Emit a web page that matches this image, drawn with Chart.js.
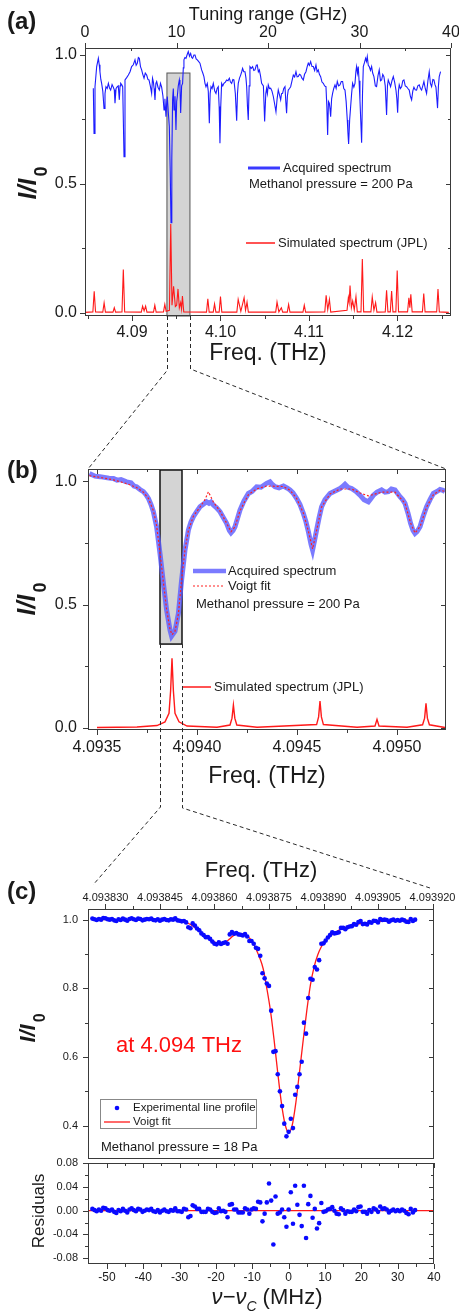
<!DOCTYPE html>
<html>
<head>
  <meta charset="utf-8">
  <title>Methanol THz spectrum</title>
  <script src="https://cdn.jsdelivr.net/npm/chart.js"></script>
  <style>
    body { margin: 0; background: #fff; width: 459px; height: 1312px; position: relative; overflow: hidden; }
    canvas { position: absolute; left: 0; }
  </style>
</head>
<body>
  <canvas id="chartA" width="459" height="372" style="top:0px"></canvas>
  <canvas id="chartB" width="459" height="356" style="top:440px"></canvas>
  <canvas id="chartC" width="459" height="313" style="top:850px"></canvas>
  <canvas id="chartR" width="459" height="162" style="top:1150px"></canvas>
  <canvas id="overlay" width="459" height="1312" style="top:0px; pointer-events:none"></canvas>

  <script>
    // ---------- panel (a): full tuning range ----------
    var aAcqF = [
      4.08563, 4.08571, 4.08582, 4.08601, 4.08620, 4.08630, 4.08638, 4.08648, 4.08657, 4.08670,
      4.08684, 4.08695, 4.08706, 4.08720, 4.08733, 4.08746, 4.08759, 4.08775, 4.08789, 4.08800,
      4.08808, 4.08820, 4.08834, 4.08845, 4.08857, 4.08865, 4.08872, 4.08885, 4.08895, 4.08910,
      4.08921, 4.08940, 4.08959, 4.08978, 4.08996, 4.09015, 4.09034, 4.09047, 4.09060, 4.09072,
      4.09083, 4.09096, 4.09109, 4.09122, 4.09136, 4.09150, 4.09166, 4.09180, 4.09192, 4.09207,
      4.09222, 4.09232, 4.09241, 4.09250, 4.09260, 4.09270, 4.09279, 4.09294, 4.09309, 4.09322,
      4.09335, 4.09350, 4.09362, 4.09372, 4.09384, 4.09392, 4.09399, 4.09410, 4.09422, 4.09432,
      4.09441, 4.09450, 4.09459, 4.09467, 4.09475, 4.09486, 4.09497, 4.09505, 4.09512, 4.09523,
      4.09535, 4.09542, 4.09550, 4.09561, 4.09572, 4.09580, 4.09587, 4.09598, 4.09610, 4.09622,
      4.09636, 4.09650, 4.09663, 4.09675, 4.09685, 4.09700, 4.09712, 4.09725, 4.09738, 4.09752,
      4.09768, 4.09787, 4.09800, 4.09813, 4.09825, 4.09836, 4.09851, 4.09862, 4.09874, 4.09883,
      4.09893, 4.09905, 4.09919, 4.09935, 4.09949, 4.09962, 4.09975, 4.09985, 4.09994, 4.10003,
      4.10013, 4.10026, 4.10039, 4.10055, 4.10070, 4.10085, 4.10100, 4.10113, 4.10126, 4.10140,
      4.10152, 4.10168, 4.10183, 4.10192, 4.10201, 4.10215, 4.10228, 4.10240, 4.10250, 4.10263,
      4.10277, 4.10288, 4.10296, 4.10305, 4.10314, 4.10324, 4.10333, 4.10348, 4.10363, 4.10377,
      4.10390, 4.10405, 4.10416, 4.10428, 4.10439, 4.10452, 4.10465, 4.10485, 4.10499, 4.10512,
      4.10521, 4.10530, 4.10540, 4.10553, 4.10567, 4.10582, 4.10597, 4.10612, 4.10627, 4.10640,
      4.10653, 4.10667, 4.10680, 4.10690, 4.10702, 4.10715, 4.10729, 4.10738, 4.10747, 4.10756,
      4.10766, 4.10780, 4.10793, 4.10808, 4.10823, 4.10838, 4.10853, 4.10866, 4.10879, 4.10893,
      4.10906, 4.10920, 4.10936, 4.10950, 4.10966, 4.10980, 4.10992, 4.11005, 4.11019, 4.11034,
      4.11049, 4.11064, 4.11079, 4.11092, 4.11105, 4.11118, 4.11132, 4.11147, 4.11162, 4.11177,
      4.11192, 4.11202, 4.11211, 4.11220, 4.11230, 4.11238, 4.11245, 4.11256, 4.11267, 4.11280,
      4.11294, 4.11307, 4.11320, 4.11335, 4.11350, 4.11365, 4.11380, 4.11393, 4.11407, 4.11420,
      4.11433, 4.11440, 4.11448, 4.11460, 4.11471, 4.11482, 4.11493, 4.11507, 4.11520, 4.11530,
      4.11538, 4.11548, 4.11557, 4.11566, 4.11576, 4.11586, 4.11595, 4.11605, 4.11614, 4.11627,
      4.11640, 4.11650, 4.11659, 4.11670, 4.11681, 4.11695, 4.11708, 4.11720, 4.11734, 4.11750,
      4.11764, 4.11780, 4.11794, 4.11808, 4.11821, 4.11834, 4.11847, 4.11862, 4.11877, 4.11887,
      4.11896, 4.11910, 4.11922, 4.11938, 4.11953, 4.11968, 4.11983, 4.11993, 4.12002, 4.12011,
      4.12020, 4.12033, 4.12047, 4.12060, 4.12073, 4.12088, 4.12103, 4.12118, 4.12133, 4.12146,
      4.12160, 4.12173, 4.12186, 4.12200, 4.12216, 4.12230, 4.12246, 4.12260, 4.12273, 4.12286,
      4.12299, 4.12314, 4.12329, 4.12344, 4.12359, 4.12372, 4.12386, 4.12400, 4.12412, 4.12424,
      4.12435, 4.12445, 4.12453, 4.12463, 4.12472, 4.12487
    ];
    var aAcqI = [
      0.871, 0.696, 0.877, 0.955, 0.987, 0.962, 0.935, 0.905, 0.890, 0.860,
      0.793, 0.850, 0.877, 0.870, 0.890, 0.872, 0.864, 0.885, 0.875, 0.865,
      0.813, 0.870, 0.877, 0.880, 0.826, 0.880, 0.890, 0.884, 0.877, 0.606,
      0.903, 0.912, 0.922, 0.935, 0.955, 0.962, 0.981, 0.960, 0.968, 0.990,
      0.987, 0.955, 0.942, 0.925, 0.910, 0.930, 0.922, 0.905, 0.903, 0.880,
      0.851, 0.910, 0.897, 0.870, 0.826, 0.890, 0.897, 0.875, 0.864, 0.890,
      0.875, 0.840, 0.787, 0.830, 0.761, 0.810, 0.839, 0.780, 0.722, 0.550,
      0.350, 0.600, 0.826, 0.870, 0.787, 0.840, 0.709, 0.820, 0.839, 0.880,
      0.903, 0.880, 0.775, 0.880, 0.890, 0.950, 0.981, 0.990, 0.987, 1.000,
      1.013, 0.995, 1.006, 0.990, 0.987, 1.000, 1.000, 0.985, 0.981, 0.975,
      0.968, 0.942, 0.930, 0.916, 0.890, 0.877, 0.890, 0.860, 0.735, 0.850,
      0.877, 0.870, 0.890, 0.860, 0.851, 0.870, 0.877, 0.800, 0.658, 0.800,
      0.890, 0.880, 0.890, 0.895, 0.903, 0.900, 0.910, 0.895, 0.890, 0.905,
      0.903, 0.850, 0.745, 0.850, 0.890, 0.910, 0.922, 0.935, 0.948, 0.935,
      0.935, 0.910, 0.877, 0.800, 0.748, 0.880, 0.955, 0.948, 0.955, 0.940,
      0.942, 0.960, 0.961, 0.935, 0.942, 0.920, 0.890, 0.880, 0.742, 0.850,
      0.870, 0.850, 0.884, 0.870, 0.871, 0.860, 0.839, 0.810, 0.780, 0.830,
      0.864, 0.845, 0.826, 0.850, 0.851, 0.870, 0.877, 0.820, 0.774, 0.840,
      0.864, 0.870, 0.877, 0.900, 0.922, 0.915, 0.935, 0.915, 0.916, 0.925,
      0.922, 0.910, 0.903, 0.925, 0.935, 0.955, 0.968, 0.960, 0.974, 0.955,
      0.955, 0.940, 0.961, 0.935, 0.942, 0.925, 0.916, 0.895, 0.890, 0.880,
      0.877, 0.800, 0.690, 0.820, 0.813, 0.790, 0.761, 0.830, 0.851, 0.870,
      0.884, 0.870, 0.897, 0.880, 0.884, 0.897, 0.897, 0.870, 0.864, 0.820,
      0.748, 0.700, 0.655, 0.750, 0.800, 0.850, 0.890, 0.875, 0.890, 0.935,
      0.955, 0.930, 0.955, 0.900, 0.826, 0.740, 0.660, 0.850, 0.955, 0.970,
      0.987, 0.975, 0.994, 0.960, 0.955, 0.940, 0.955, 0.930, 0.916, 0.880,
      0.877, 0.920, 0.942, 0.900, 0.903, 0.925, 0.916, 0.880, 0.767, 0.880,
      0.903, 0.890, 0.877, 0.900, 0.916, 0.895, 0.864, 0.830, 0.776, 0.860,
      0.884, 0.870, 0.877, 0.900, 0.903, 0.880, 0.877, 0.870, 0.864, 0.840,
      0.826, 0.860, 0.875, 0.865, 0.864, 0.880, 0.884, 0.870, 0.864, 0.880,
      0.897, 0.870, 0.851, 0.900, 0.935, 0.890, 0.877, 0.905, 0.903, 0.885,
      0.875, 0.830, 0.794, 0.880, 0.916, 0.935
    ];
    // simulated JPL lines (red)
    var aSimF = [
      4.0847, 4.08558, 4.08573, 4.08588,
      4.08670, 4.08685, 4.08700,
      4.08785, 4.08800, 4.08815,
      4.08887, 4.08902, 4.08917,
      4.09105, 4.09120, 4.09137, 4.09154, 4.09169,
      4.09243, 4.09258, 4.09273,
      4.09356, 4.09371, 4.09386,
      4.09423, 4.09438, 4.09452, 4.09470, 4.09490, 4.09505, 4.09520, 4.09535, 4.09550, 4.09560, 4.09570, 4.09585,
      4.09842, 4.09857, 4.09872,
      4.09918, 4.09933, 4.09948,
      4.09985, 4.10000, 4.10015,
      4.10185, 4.10200, 4.10230, 4.10267, 4.10283, 4.10300, 4.10315,
      4.10624, 4.10639, 4.10660, 4.10688, 4.10703,
      4.10755, 4.10770, 4.10785,
      4.10932, 4.10947, 4.10962,
      4.11179, 4.11194, 4.11212, 4.11231, 4.11246,
      4.11430, 4.11445, 4.11454, 4.11464, 4.11479, 4.11494, 4.11512, 4.11531, 4.11546,
      4.11588, 4.11603, 4.11618,
      4.11700, 4.11715, 4.11734, 4.11753, 4.11768,
      4.11862, 4.11877, 4.11892,
      4.11919, 4.11934, 4.11949,
      4.11982, 4.11997, 4.12012,
      4.12114, 4.12129, 4.12140, 4.12151, 4.12166,
      4.12282, 4.12297, 4.12312,
      4.12443, 4.12458, 4.12473,
      4.1258
    ];
    var aSimI = [
      0.002, 0.004, 0.084, 0.004,
      0.003, 0.039, 0.003,
      0.003, 0.020, 0.003,
      0.004, 0.168, 0.004,
      0.003, 0.026, 0.008, 0.026, 0.003,
      0.003, 0.030, 0.003,
      0.004, 0.033, 0.006,
      0.010, 0.345, 0.030, 0.103, 0.025, 0.030, 0.093, 0.020, 0.040, 0.015, 0.065, 0.004,
      0.003, 0.055, 0.003,
      0.003, 0.035, 0.003,
      0.003, 0.063, 0.003,
      0.003, 0.052, 0.006, 0.059, 0.010, 0.042, 0.003,
      0.003, 0.042, 0.004, 0.020, 0.003,
      0.003, 0.033, 0.003,
      0.003, 0.030, 0.003,
      0.004, 0.068, 0.012, 0.052, 0.003,
      0.010, 0.059, 0.040, 0.106, 0.020, 0.046, 0.012, 0.063, 0.004,
      0.004, 0.209, 0.004,
      0.004, 0.062, 0.010, 0.040, 0.003,
      0.004, 0.088, 0.004,
      0.004, 0.085, 0.004,
      0.004, 0.164, 0.004,
      0.004, 0.059, 0.020, 0.072, 0.004,
      0.004, 0.075, 0.004,
      0.004, 0.093, 0.004,
      0.002
    ];
    var aFreqTicks = [4.09, 4.10, 4.11, 4.12];
    var aFreqMinor = [4.085, 4.095, 4.105, 4.115, 4.125];
    var aTuneTicks = [0, 10, 20, 30, 40];
    var aTuneMinor = [5, 15, 25, 35];
    var aYTicks = [0, 0.5, 1.0];
    var aYMinor = [0.25, 0.75];
    var aZoomBox = [4.09395, 4.09655, -0.012, 0.93];   // x0, x1, y0, y1

    // ---------- panel (b): zoom around 4.094 THz ----------
    var bAcqF = [
      4.093462, 4.093490, 4.093515, 4.093545, 4.093560, 4.093582, 4.093600, 4.093620, 4.093648, 4.093670,
      4.093685, 4.093698, 4.093715, 4.093732, 4.093745, 4.093757, 4.093770, 4.093782, 4.093798, 4.093815,
      4.093832, 4.093848, 4.093865, 4.093873, 4.093880, 4.093890, 4.093907, 4.093923, 4.093940, 4.093957,
      4.093970, 4.093982, 4.094000, 4.094015, 4.094030, 4.094048, 4.094060, 4.094070, 4.094082, 4.094098,
      4.094115, 4.094130, 4.094148, 4.094162, 4.094170, 4.094180, 4.094190, 4.094203, 4.094215, 4.094235,
      4.094257, 4.094275, 4.094298, 4.094320, 4.094348, 4.094365, 4.094378, 4.094390, 4.094410, 4.094432,
      4.094450, 4.094465, 4.094480, 4.094498, 4.094515, 4.094532, 4.094545, 4.094557, 4.094570, 4.094578,
      4.094588, 4.094598, 4.094610, 4.094623, 4.094640, 4.094665, 4.094690, 4.094715, 4.094728, 4.094740,
      4.094755, 4.094773, 4.094795, 4.094815, 4.094835, 4.094857, 4.094870, 4.094882, 4.094900, 4.094923,
      4.094940, 4.094957, 4.094972, 4.094990, 4.095003, 4.095015, 4.095028, 4.095040, 4.095055, 4.095068,
      4.095080, 4.095090, 4.095100, 4.095115, 4.095130, 4.095148, 4.095165, 4.095182, 4.095200, 4.095215,
      4.095230, 4.095240
    ];
    var bAcqI = [
      1.031, 1.020, 1.018, 1.014, 1.012, 1.011, 1.004, 1.006, 0.997, 0.993,
      0.980, 0.977, 0.966, 0.957, 0.945, 0.930, 0.905, 0.876, 0.815, 0.707,
      0.586, 0.478, 0.397, 0.372, 0.380, 0.392, 0.464, 0.599, 0.721, 0.802,
      0.835, 0.856, 0.878, 0.896, 0.905, 0.916, 0.910, 0.915, 0.903, 0.892,
      0.876, 0.855, 0.829, 0.800, 0.791, 0.800, 0.815, 0.850, 0.883, 0.920,
      0.950, 0.958, 0.977, 0.975, 0.991, 0.997, 0.985, 0.977, 0.973, 0.980,
      0.972, 0.964, 0.952, 0.930, 0.905, 0.869, 0.835, 0.795, 0.745, 0.721,
      0.760, 0.802, 0.850, 0.896, 0.925, 0.950, 0.960, 0.970, 0.978, 0.987,
      0.975, 0.970, 0.958, 0.943, 0.925, 0.916, 0.930, 0.943, 0.955, 0.964,
      0.955, 0.957, 0.968, 0.964, 0.950, 0.937, 0.925, 0.910, 0.870, 0.829,
      0.800, 0.788, 0.795, 0.815, 0.855, 0.896, 0.925, 0.950, 0.958, 0.966,
      0.963, 0.957
    ];
    var bFitF = [
      4.093462, 4.093515, 4.093582, 4.093648, 4.093698, 4.093732, 4.093757, 4.093782, 4.093798, 4.093815,
      4.093832, 4.093848, 4.093865, 4.093875, 4.093890, 4.093907, 4.093923, 4.093940, 4.093957, 4.093982,
      4.094015, 4.094040, 4.094057, 4.094082, 4.094115, 4.094148, 4.094170, 4.094190, 4.094215, 4.094257,
      4.094298, 4.094348, 4.094432, 4.094465, 4.094498, 4.094532, 4.094557, 4.094578, 4.094598, 4.094623,
      4.094665, 4.094715, 4.094773, 4.094815, 4.094857, 4.094923, 4.094990, 4.095040, 4.095068, 4.095090,
      4.095115, 4.095148, 4.095182, 4.095215, 4.095240
    ];
    var bFitI = [
      1.022, 1.015, 1.005, 0.990, 0.974, 0.955, 0.930, 0.880, 0.820, 0.710,
      0.590, 0.480, 0.400, 0.378, 0.392, 0.462, 0.600, 0.722, 0.800, 0.858,
      0.895, 0.925, 0.957, 0.915, 0.878, 0.830, 0.795, 0.815, 0.880, 0.945,
      0.968, 0.980, 0.978, 0.963, 0.930, 0.870, 0.797, 0.725, 0.800, 0.895,
      0.948, 0.968, 0.968, 0.952, 0.940, 0.955, 0.955, 0.910, 0.830, 0.790,
      0.815, 0.895, 0.945, 0.963, 0.958
    ];
    var bSimF = [
      4.09350, 4.09370, 4.09380, 4.09384, 4.093860, 4.093868, 4.093875, 4.093882, 4.09389, 4.09391,
      4.09395, 4.09410, 4.094165, 4.094175, 4.094182, 4.094189, 4.094199, 4.09430, 4.094598, 4.094608,
      4.094615, 4.094622, 4.094632, 4.09480, 4.094890, 4.094900, 4.094910, 4.09505, 4.095128, 4.095138,
      4.095145, 4.095152, 4.095162, 4.09524
    ];
    var bSimI = [
      0.002, 0.004, 0.010, 0.025, 0.060, 0.150, 0.282, 0.150, 0.060, 0.025,
      0.008, 0.003, 0.012, 0.040, 0.093, 0.040, 0.012, 0.003, 0.014, 0.045,
      0.109, 0.045, 0.014, 0.003, 0.008, 0.035, 0.008, 0.003, 0.013, 0.040,
      0.100, 0.040, 0.013, 0.002
    ];
    var bXTicks = [4.0935, 4.0940, 4.0945, 4.0950];
    var bXMinor = [4.09375, 4.09425, 4.09475];
    var bYTicks = [0, 0.5, 1.0];
    var bYMinor = [0.25, 0.75];
    var bZoomBox = [4.093815, 4.093925, 0.34, 1.045];

    // ---------- panel (c): single line at 4.094 THz, 18 Pa ----------
    var cShift = [
      -54.0, -53.4, -52.8, -52.2, -51.6, -51.0, -50.4, -49.8, -49.2, -48.6,
      -48.0, -47.4, -46.8, -46.2, -45.6, -45.0, -44.4, -43.8, -43.2, -42.6,
      -42.0, -41.4, -40.8, -40.2, -39.6, -39.0, -38.4, -37.8, -37.2, -36.6,
      -36.0, -35.4, -34.8, -34.2, -33.6, -33.0, -32.4, -31.8, -31.2, -30.6,
      -30.0, -29.4, -28.8, -28.2, -27.6, -27.0, -26.4, -25.8, -25.2, -24.6,
      -24.0, -23.4, -22.8, -22.2, -21.6, -21.0, -20.4, -19.8, -19.2, -18.6,
      -18.0, -17.4, -16.8, -16.2, -15.6, -15.0, -14.4, -13.8, -13.2, -12.6,
      -12.0, -11.4, -10.8, -10.2, -9.6, -9.0, -8.4, -7.8, -7.2, -6.6,
      -6.0, -5.4, -4.8, -4.2, -3.6, -3.0, -2.4, -1.8, -1.2, -0.6,
      0.0, 0.6, 1.2, 1.8, 2.4, 3.0, 3.6, 4.2, 4.8, 5.4,
      6.0, 6.6, 7.2, 7.8, 8.4, 9.0, 9.6, 10.2, 10.8, 11.4,
      12.0, 12.6, 13.2, 13.8, 14.4, 15.0, 15.6, 16.2, 16.8, 17.4,
      18.0, 18.6, 19.2, 19.8, 20.4, 21.0, 21.6, 22.2, 22.8, 23.4,
      24.0, 24.6, 25.2, 25.8, 26.4, 27.0, 27.6, 28.2, 28.8, 29.4,
      30.0, 30.6, 31.2, 31.8, 32.4, 33.0, 33.6, 34.2, 34.8
    ];
    var cExpI = [
      1.003, 1.001, 0.999, 1.002, 1.000, 1.005, 1.004, 1.001, 1.000, 1.002,
      0.998, 0.996, 1.001, 0.999, 1.003, 1.000, 0.997, 1.002, 1.004, 1.001,
      0.999, 1.003, 1.002, 0.998, 1.000, 1.002, 1.001, 1.003, 0.999, 0.998,
      1.001, 0.997, 1.000, 1.002, 0.999, 0.998, 1.001, 1.000, 1.004, 0.998,
      0.997, 0.995, 0.996, 0.992, 0.978, 0.975, 0.989, 0.983, 0.974, 0.969,
      0.960, 0.955, 0.949, 0.949, 0.944, 0.936, 0.930, 0.928, 0.934, 0.929,
      0.932, 0.934, 0.930, 0.957, 0.964, 0.959, 0.961, 0.957, 0.956, 0.954,
      0.958, 0.951, 0.938, 0.938, 0.930, 0.918, 0.915, 0.895, 0.844, 0.829,
      0.814, 0.807, 0.735, 0.615, 0.617, 0.550, 0.500, 0.457, 0.406, 0.369,
      0.382, 0.420, 0.393, 0.490, 0.513, 0.550, 0.586, 0.700, 0.668, 0.772,
      0.828, 0.825, 0.862, 0.855, 0.882, 0.930, 0.931, 0.939, 0.948, 0.955,
      0.963, 0.960, 0.961, 0.963, 0.976, 0.976, 0.972, 0.978, 0.980, 0.981,
      0.987, 0.985, 0.993, 0.996, 0.987, 0.988, 0.986, 0.993, 0.991, 0.997,
      0.996, 0.992, 1.002, 0.999, 1.000, 0.999, 0.994, 0.998, 1.000, 0.997,
      0.999, 0.997, 1.000, 0.998, 0.994, 0.993, 1.002, 0.996, 1.000
    ];
    var cResid = [
      0.003, 0.001, -0.001, 0.002, 0.000, 0.005, 0.004, 0.001, 0.000, 0.002,
      -0.002, -0.004, 0.001, -0.001, 0.003, 0.000, -0.003, 0.002, 0.004, 0.001,
      -0.001, 0.003, 0.002, -0.002, 0.000, 0.002, 0.001, 0.003, -0.001, -0.002,
      0.001, -0.003, 0.000, 0.002, -0.001, -0.002, 0.001, 0.000, 0.004, -0.001,
      -0.001, -0.002, 0.003, 0.002, -0.011, -0.009, 0.009, 0.007, 0.003, 0.003,
      -0.002, -0.002, -0.002, 0.003, 0.002, -0.002, -0.004, -0.003, 0.004, -0.001,
      0.000, -0.002, -0.011, 0.010, 0.011, 0.002, 0.002, -0.003, -0.003, -0.003,
      0.004, 0.002, -0.005, 0.002, 0.004, 0.003, 0.015, 0.014, -0.018, -0.005,
      0.014, 0.046, 0.017, -0.057, 0.024, -0.005, -0.003, 0.002, -0.011, -0.027,
      0.002, 0.031, -0.022, 0.042, 0.010, -0.007, -0.026, 0.042, -0.046, 0.011,
      0.025, -0.012, 0.003, -0.030, -0.021, 0.013, -0.002, -0.001, 0.002, 0.003,
      0.006, 0.000, -0.005, -0.006, 0.004, 0.001, -0.005, -0.001, -0.002, -0.002,
      0.002, -0.001, 0.006, 0.007, -0.002, -0.002, -0.005, 0.001, -0.002, 0.004,
      0.002, -0.002, 0.007, 0.003, 0.004, 0.002, -0.003, 0.000, 0.002, -0.001,
      0.001, -0.001, 0.002, 0.000, -0.004, -0.006, 0.003, -0.003, 0.001
    ];
    var cFitShift = [
      -54, -40, -32, -30, -29, -28, -27, -26, -25, -24,
      -23, -22, -21, -20, -19, -18, -17, -16, -15, -14,
      -13, -12, -11, -10, -9, -8, -7, -6, -5, -4,
      -3, -2, -1, 0, 1, 2, 3, 4, 5, 6,
      7, 8, 9, 10, 11, 12, 13, 14, 15, 16,
      17, 18, 19, 20, 22, 25, 30, 35
    ];
    var cFitI = [
      1.000, 1.000, 0.999, 0.997, 0.995, 0.991, 0.986, 0.979, 0.971, 0.962,
      0.954, 0.946, 0.939, 0.933, 0.930, 0.931, 0.937, 0.946, 0.955, 0.959,
      0.959, 0.956, 0.949, 0.937, 0.915, 0.890, 0.857, 0.800, 0.735, 0.650,
      0.555, 0.467, 0.405, 0.380, 0.402, 0.468, 0.557, 0.648, 0.735, 0.810,
      0.862, 0.897, 0.921, 0.937, 0.948, 0.957, 0.964, 0.970, 0.975, 0.979,
      0.982, 0.985, 0.987, 0.989, 0.992, 0.995, 0.998, 0.999
    ];
    var rZeroShift = [-55.2, 40];
    var rZeroI = [0, 0];
    var cYTicks = [0.4, 0.6, 0.8, 1.0];
    var cYMinor = [0.5, 0.7, 0.9];
    // top axis in MHz above 4.093800 THz
    var cTopTicks = [30, 45, 60, 75, 90, 105, 120];
    var cTopMinor = [37.5, 52.5, 67.5, 82.5, 97.5, 112.5];
    var rYTicks = [-0.08, -0.04, 0, 0.04, 0.08];
    var rYMinor = [-0.06, -0.02, 0.02, 0.06];
    var rXTicks = [-50, -40, -30, -20, -10, 0, 10, 20, 30, 40];
    var rXMinor = [-45, -35, -25, -15, -5, 5, 15, 25, 35];

    // ---------- helpers ----------
    var INK = '#1a1a1a';
    var FONT = '"Liberation Sans", Arial, sans-serif';
    Chart.defaults.font.family = FONT;
    Chart.defaults.color = INK;

    function pts(xs, ys) {
      return xs.map(function (x, i) { return {x: x, y: ys[i]}; });
    }

    function linAxis(o) {
      var horiz = o.pos === 'top' || o.pos === 'bottom';
      return {
        type: 'linear', position: o.pos, min: o.min, max: o.max,
        afterBuildTicks: function (s) { s.ticks = o.ticks.map(function (v) { return {value: v}; }); },
        afterFit: function (s) {
          if (horiz) s.height = o.size; else s.width = o.size;
          s.paddingLeft = 0; s.paddingRight = 0; s.paddingTop = 0; s.paddingBottom = 0;
        },
        grid: {display: false, drawTicks: false},
        border: {display: false},
        ticks: {autoSkip: false, maxRotation: 0, padding: o.pad, color: INK, font: {size: o.font}, callback: o.fmt},
        title: o.title ? {display: true, text: o.title, color: INK, font: {size: o.tsize}, padding: o.tpad} : {display: false}
      };
    }

    function text(ctx, s, x, y, font, color, align) {
      ctx.font = font;
      ctx.fillStyle = color || INK;
      ctx.textAlign = align || 'left';
      ctx.textBaseline = 'middle';
      ctx.fillText(s, x, y);
    }

    function seg(ctx, x1, y1, x2, y2, color, width, dash) {
      ctx.save();
      ctx.strokeStyle = color; ctx.lineWidth = width;
      ctx.setLineDash(dash || []);
      ctx.beginPath(); ctx.moveTo(x1, y1); ctx.lineTo(x2, y2); ctx.stroke();
      ctx.restore();
    }

    // rotated I/I0 axis label
    function drawRatioLabel(ctx, cx, cy, size) {
      var main = 'italic bold ' + size + 'px ' + FONT;
      var subSize = Math.round(size * 0.72);
      var sub = 'bold ' + subSize + 'px ' + FONT;
      ctx.save();
      ctx.translate(cx, cy);
      ctx.rotate(-Math.PI / 2);
      ctx.fillStyle = INK;
      ctx.textBaseline = 'alphabetic';
      ctx.textAlign = 'left';
      ctx.font = main;
      var w1 = ctx.measureText('I/I').width;
      ctx.font = sub;
      var w2 = ctx.measureText('0').width;
      var x = -(w1 + w2 + 2) / 2;
      ctx.font = main;
      ctx.fillText('I/I', x, size * 0.2);
      ctx.font = sub;
      ctx.fillText('0', x + w1 + 2, size * 0.2 + size * 0.42);
      ctx.restore();
    }

    function drawTicks(ctx, chart, spec) {
      var a = chart.chartArea, s = chart.scales[spec.axis];
      var d = spec.len * (spec.out ? 1 : -1);
      ctx.beginPath();
      spec.values.forEach(function (v) {
        var p = Math.round(s.getPixelForValue(v)) + 0.5;
        if (spec.edge === 'left') { ctx.moveTo(a.left, p); ctx.lineTo(a.left - d, p); }
        if (spec.edge === 'right') { ctx.moveTo(a.right, p); ctx.lineTo(a.right + d, p); }
        if (spec.edge === 'top') { ctx.moveTo(p, a.top); ctx.lineTo(p, a.top - d); }
        if (spec.edge === 'bottom') { ctx.moveTo(p, a.bottom); ctx.lineTo(p, a.bottom + d); }
      });
      ctx.stroke();
    }

    function mirrorTicks(axis, edgeMain, edgeMirror, major, minor) {
      return [
        {axis: axis, edge: edgeMain, values: major, len: 5, out: true},
        {axis: axis, edge: edgeMain, values: minor, len: 3, out: true},
        {axis: axis, edge: edgeMirror, values: major, len: 5, out: false},
        {axis: axis, edge: edgeMirror, values: minor, len: 3, out: false}
      ];
    }

    // per panel decorations: frame, ticks, zoom box, legends, notes
    var PANEL = {
      chartA: {
        ticks: mirrorTicks('y', 'left', 'right', aYTicks, aYMinor).concat([
          {axis: 'x', edge: 'bottom', values: aFreqTicks, len: 5, out: true},
          {axis: 'x', edge: 'bottom', values: aFreqMinor, len: 3, out: true},
          {axis: 'xTop', edge: 'top', values: aTuneTicks, len: 5, out: true},
          {axis: 'xTop', edge: 'top', values: aTuneMinor, len: 3, out: false}
        ]),
        box: aZoomBox, boxFill: '#d4d4d4', boxLine: '#555', boxWidth: 1,
        extra: function (ctx) {
          seg(ctx, 248, 168, 280, 168, '#3a3aff', 3);
          text(ctx, 'Acquired spectrum', 283, 168, '13px ' + FONT);
          text(ctx, 'Methanol pressure = 200 Pa', 249, 184, '13px ' + FONT);
          seg(ctx, 246, 243, 275, 243, '#ff1a1a', 1.5);
          text(ctx, 'Simulated spectrum (JPL)', 278, 243, '13px ' + FONT);
          drawRatioLabel(ctx, 31, 183, 25);
        }
      },
      chartB: {
        ticks: mirrorTicks('y', 'left', 'right', bYTicks, bYMinor)
          .concat(mirrorTicks('x', 'bottom', 'top', bXTicks, bXMinor)),
        box: bZoomBox, boxFill: '#d4d4d4', boxLine: '#111', boxWidth: 1.5,
        extra: function (ctx) {
          seg(ctx, 193, 131, 226, 131, 'rgba(90,90,255,0.8)', 4.5);
          text(ctx, 'Acquired spectrum', 228, 131, '13px ' + FONT);
          seg(ctx, 193, 146, 224, 146, '#ff2020', 1.2, [2, 2]);
          text(ctx, 'Voigt fit', 228, 146, '13px ' + FONT);
          text(ctx, 'Methanol pressure = 200 Pa', 196, 164, '13px ' + FONT);
          seg(ctx, 182, 247, 211, 247, '#ff1a1a', 1.5);
          text(ctx, 'Simulated spectrum (JPL)', 214, 247, '13px ' + FONT);
          drawRatioLabel(ctx, 30, 159, 25);
        }
      },
      chartC: {
        ticks: mirrorTicks('y', 'left', 'right', cYTicks, cYMinor).concat([
          {axis: 'xTop', edge: 'top', values: cTopTicks, len: 5, out: true},
          {axis: 'xTop', edge: 'top', values: cTopMinor, len: 3, out: true}
        ]),
        extra: function (ctx) {
          ctx.save();
          ctx.strokeStyle = '#888'; ctx.lineWidth = 1;
          ctx.strokeRect(100.5, 249.5, 156, 29);
          ctx.restore();
          ctx.fillStyle = '#0a0aff';
          ctx.beginPath(); ctx.arc(117, 258, 2.3, 0, Math.PI * 2); ctx.fill();
          text(ctx, 'Experimental line profile', 133, 258, '11.5px ' + FONT);
          seg(ctx, 104, 272, 130, 272, '#ff1a1a', 1.3);
          text(ctx, 'Voigt fit', 133, 272, '11.5px ' + FONT);
          text(ctx, 'Methanol pressure = 18 Pa', 101, 297, '13px ' + FONT);
          text(ctx, 'at 4.094 THz', 116, 196, '22px ' + FONT, '#ff1010');
          drawRatioLabel(ctx, 31, 178, 22);
        }
      },
      chartR: {
        ticks: mirrorTicks('y', 'left', 'right', rYTicks, rYMinor)
          .concat(mirrorTicks('x', 'bottom', 'top', rXTicks, rXMinor)),
        extra: function (ctx) {
          ctx.save();
          ctx.translate(39, 61);
          ctx.rotate(-Math.PI / 2);
          text(ctx, 'Residuals', 0, 0, '17px ' + FONT, INK, 'center');
          ctx.restore();
          // x title: nu - nu_C (MHz)
          var big = 'italic 22px ' + FONT, sub = 'italic 14px ' + FONT, reg = '22px ' + FONT;
          var parts = [['\u03bd\u2212\u03bd', big, 0], ['C', sub, 7], [' (MHz)', reg, 0]];
          var total = 0;
          parts.forEach(function (p) { ctx.font = p[1]; total += ctx.measureText(p[0]).width; });
          var x = 267 - total / 2;
          ctx.fillStyle = INK; ctx.textAlign = 'left'; ctx.textBaseline = 'alphabetic';
          parts.forEach(function (p) {
            ctx.font = p[1];
            ctx.fillText(p[0], x, 154 + p[2]);
            x += ctx.measureText(p[0]).width;
          });
        }
      }
    };

    var decorPlugin = {
      id: 'decor',
      beforeDatasetsDraw: function (chart) {
        var o = PANEL[chart.canvas.id];
        if (!o.box) return;
        var ctx = chart.ctx, sx = chart.scales.x, sy = chart.scales.y;
        var x0 = sx.getPixelForValue(o.box[0]), x1 = sx.getPixelForValue(o.box[1]);
        var y0 = sy.getPixelForValue(o.box[2]), y1 = sy.getPixelForValue(o.box[3]);
        ctx.save();
        ctx.fillStyle = o.boxFill;
        ctx.fillRect(x0, y1, x1 - x0, y0 - y1);
        ctx.strokeStyle = o.boxLine; ctx.lineWidth = o.boxWidth;
        ctx.strokeRect(x0, y1, x1 - x0, y0 - y1);
        ctx.restore();
      },
      afterDraw: function (chart) {
        var o = PANEL[chart.canvas.id];
        var ctx = chart.ctx, a = chart.chartArea;
        ctx.save();
        ctx.strokeStyle = '#3a3a3a'; ctx.lineWidth = 1;
        ctx.strokeRect(Math.round(a.left) + 0.5, Math.round(a.top) + 0.5,
                       Math.round(a.right - a.left) - 1, Math.round(a.bottom - a.top) - 1);
        o.ticks.forEach(function (t) { drawTicks(ctx, chart, t); });
        o.extra(ctx);
        ctx.restore();
      }
    };

    function lineSet(data, color, width, order, dash) {
      return {data: data, showLine: true, borderColor: color, borderWidth: width, borderDash: dash || [],
              pointRadius: 0, tension: 0, fill: false, order: order};
    }

    var common = {
      responsive: false, animation: false, events: [],
      plugins: {legend: {display: false}, tooltip: {enabled: false}}
    };

    function opts(extra) { return Object.assign({}, common, extra); }

    // ---------- chart (a) ----------
    var chartA = new Chart(document.getElementById('chartA'), {
      type: 'scatter',
      data: {datasets: [
        lineSet(pts(aAcqF, aAcqI), '#1c1cff', 1.1, 1),
        lineSet(pts(aSimF, aSimI), '#ff1a1a', 1.1, 0)
      ]},
      options: opts({
        layout: {padding: {right: 8}},
        scales: {
          x: linAxis({pos: 'bottom', min: 4.08469, max: 4.12605, ticks: aFreqTicks, size: 56, pad: 7, font: 16,
                      fmt: function (v) { return v.toFixed(2); },
                      title: 'Freq. (THz)', tsize: 23, tpad: {top: 0, bottom: 5}}),
          xTop: linAxis({pos: 'top', min: 0, max: 40, ticks: aTuneTicks, size: 48, pad: 6, font: 16,
                         fmt: function (v) { return String(v); },
                         title: 'Tuning range (GHz)', tsize: 18, tpad: {top: 4, bottom: 0}}),
          y: linAxis({pos: 'left', min: -0.012, max: 1.027, ticks: aYTicks, size: 85, pad: 8, font: 16,
                      fmt: function (v) { return v.toFixed(1); }})
        }
      }),
      plugins: [decorPlugin]
    });

    // ---------- chart (b) ----------
    var chartB = new Chart(document.getElementById('chartB'), {
      type: 'scatter',
      data: {datasets: [
        lineSet(pts(bAcqF, bAcqI), 'rgba(90,90,255,0.8)', 5, 2),
        lineSet(pts(bFitF, bFitI), '#ff2020', 1.2, 0, [2, 2]),
        lineSet(pts(bSimF, bSimI), '#ff1a1a', 1.4, 1)
      ]},
      options: opts({
        layout: {padding: {top: 29, right: 13}},
        scales: {
          x: linAxis({pos: 'bottom', min: 4.093455, max: 4.095245, ticks: bXTicks, size: 66, pad: 7.5, font: 16,
                      fmt: function (v) { return v.toFixed(4); },
                      title: 'Freq. (THz)', tsize: 23, tpad: {top: 0, bottom: 6}}),
          y: linAxis({pos: 'left', min: -0.008, max: 1.049, ticks: bYTicks, size: 88, pad: 11, font: 16,
                      fmt: function (v) { return v.toFixed(1); }})
        }
      }),
      plugins: [decorPlugin]
    });

    // ---------- chart (c) main ----------
    var chartC = new Chart(document.getElementById('chartC'), {
      type: 'scatter',
      data: {datasets: [
        {data: pts(cShift, cExpI), pointRadius: 2.3, pointBackgroundColor: '#0a0aff', pointBorderWidth: 0, order: 0},
        Object.assign(lineSet(pts(cFitShift, cFitI), '#ff1a1a', 1.3, 1), {cubicInterpolationMode: 'monotone'})
      ]},
      options: opts({
        layout: {padding: {right: 25}},
        scales: {
          x: {type: 'linear', display: false, min: -55.2, max: 40},
          xTop: linAxis({pos: 'top', min: 25.2, max: 120.4, ticks: cTopTicks, size: 59, pad: 4, font: 11,
                         fmt: function (v) { return (4.0938 + v * 1e-6).toFixed(6); },
                         title: 'Freq. (THz)', tsize: 22, tpad: {top: 8, bottom: 0}}),
          y: linAxis({pos: 'left', min: 0.303, max: 1.031, ticks: cYTicks, size: 88, pad: 10, font: 11,
                      fmt: function (v) { return v.toFixed(1); }})
        }
      }),
      plugins: [decorPlugin]
    });

    // ---------- chart (c) residuals ----------
    var chartR = new Chart(document.getElementById('chartR'), {
      type: 'scatter',
      data: {datasets: [
        {data: pts(cShift, cResid), pointRadius: 2.3, pointBackgroundColor: '#0a0aff', pointBorderWidth: 0, order: 0},
        lineSet(pts(rZeroShift, rZeroI), '#ff1a1a', 1.3, 1)
      ]},
      options: opts({
        layout: {padding: {top: 13, right: 25}},
        scales: {
          x: linAxis({pos: 'bottom', min: -55.2, max: 40, ticks: rXTicks, size: 48, pad: 6, font: 12,
                      fmt: function (v) { return String(v); }}),
          y: linAxis({pos: 'left', min: -0.09, max: 0.0805, ticks: rYTicks, size: 88, pad: 10, font: 11,
                      fmt: function (v) { return v.toFixed(2); }})
        }
      }),
      plugins: [decorPlugin]
    });

    // ---------- dashed zoom connectors and panel letters ----------
    function drawOverlay() {
      var ov = document.getElementById('overlay').getContext('2d');
      var topB = 440, topC = 850;
      var aA = chartA.chartArea, aB = chartB.chartArea, aC = chartC.chartArea;
      var ax0 = Math.round(chartA.scales.x.getPixelForValue(aZoomBox[0])) + 0.5;
      var ax1 = Math.round(chartA.scales.x.getPixelForValue(aZoomBox[1])) + 0.5;
      var bx0 = Math.round(chartB.scales.x.getPixelForValue(bZoomBox[0])) + 0.5;
      var bx1 = Math.round(chartB.scales.x.getPixelForValue(bZoomBox[1])) + 0.5;
      var by = chartB.scales.y.getPixelForValue(bZoomBox[2]) + topB;

      function path(p) {
        ov.beginPath();
        ov.moveTo(p[0][0], p[0][1]);
        for (var i = 1; i < p.length; i++) ov.lineTo(p[i][0], p[i][1]);
        ov.stroke();
      }
      ov.strokeStyle = '#2a2a2a'; ov.lineWidth = 1; ov.setLineDash([4, 3]);
      path([[ax0, aA.bottom], [ax0, 370], [aB.left, aB.top + topB]]);
      path([[ax1, aA.bottom], [ax1, 369], [aB.right, aB.top + topB]]);
      path([[bx0, by], [bx0, 807], [aC.left + 5, topC + 35]]);
      path([[bx1, by], [bx1, 808], [aC.right - 4, topC + 38]]);
      ov.setLineDash([]);

      text(ov, '(a)', 7, 22, 'bold 24px ' + FONT);
      text(ov, '(b)', 7, 471, 'bold 24px ' + FONT);
      text(ov, '(c)', 7, 892, 'bold 24px ' + FONT);
    }
    drawOverlay();
  </script>
</body>
</html>
